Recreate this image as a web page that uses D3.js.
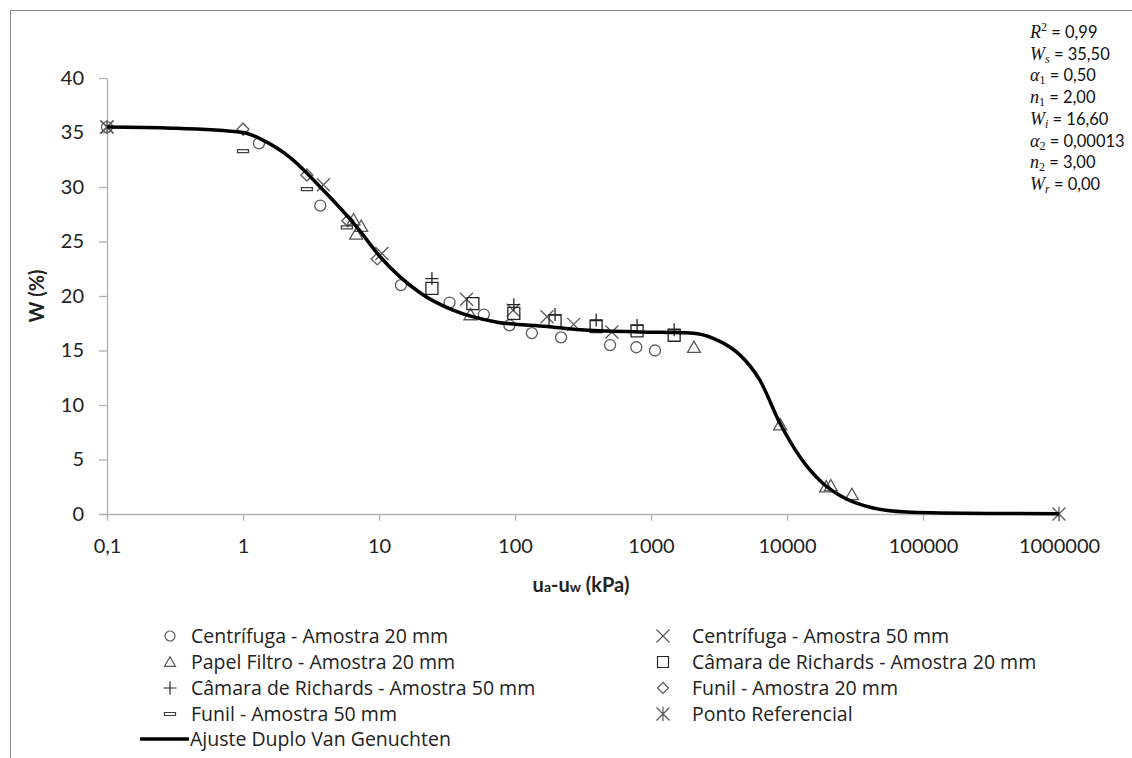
<!DOCTYPE html>
<html>
<head>
<meta charset="utf-8">
<script src="https://cdn.jsdelivr.net/npm/d3@7"></script>
<style>
  body { margin: 0; background: #fff; }
  svg { display: block; font-family: Lato, "Open Sans", sans-serif; }
</style>
</head>
<body>
<svg id="chart" width="1132" height="758"></svg>
<script>
// x = suction (kPa), y = W (%)
const centrifuga20_x = [0.1, 1.31, 3.7, 14.5, 33, 59, 91, 133, 218, 500, 780, 1070];
const centrifuga20_y = [35.5, 34.0, 28.3, 21.0, 19.4, 18.3, 17.3, 16.6, 16.2, 15.5, 15.3, 15.0];
const centrifuga50_x = [0.1, 3.9, 10.5, 44, 97, 172, 270, 516];
const centrifuga50_y = [35.5, 30.2, 23.9, 19.7, 18.7, 18.1, 17.4, 16.7];
const papel20_x = [6.5, 7.4, 6.8, 47, 2070, 8900, 19400, 21000, 30000];
const papel20_y = [27.0, 26.4, 25.7, 18.3, 15.3, 8.2, 2.5, 2.6, 1.8];
const richards20_x = [24.5, 49, 98, 197, 395, 790, 1480];
const richards20_y = [20.7, 19.3, 18.4, 17.7, 17.2, 16.8, 16.4];
const richards50_x = [24.5, 98, 197, 395, 790, 1480];
const richards50_y = [21.6, 19.2, 18.3, 17.8, 17.3, 16.9];
const funil20_x = [1.0, 2.95, 5.9, 9.7];
const funil20_y = [35.3, 31.1, 26.9, 23.4];
const funil50_x = [1.0, 2.95, 5.8];
const funil50_y = [33.3, 29.8, 26.3];
const referencial_x = [0.1, 1000000];
const referencial_y = [35.5, 0];

// fitted curve
const ajuste_x = [0.1, 0.3, 1, 1.4, 2.2, 3.9, 6.9, 10.2, 20, 35, 74, 172, 302, 830, 1950, 2900, 3830, 4500, 6300, 8900, 12500, 18400, 24500, 43000, 76000, 133000, 300000, 1000000];
const ajuste_y = [35.5, 35.4, 35.0, 34.3, 32.75, 29.7, 26.3, 23.6, 20.3, 18.7, 17.6, 17.2, 16.9, 16.7, 16.6, 16.1, 15.3, 14.6, 12.3, 8.3, 5.2, 2.8, 1.7, 0.55, 0.18, 0.1, 0.05, 0.03];

const x_ticks = [0.1, 1, 10, 100, 1000, 10000, 100000, 1000000];
const y_ticks = [0, 5, 10, 15, 20, 25, 30, 35, 40];

const params = [
  ["R", "2", "sup", " = 0,99"],
  ["W", "s", "sub", " = 35,50"],
  ["α", "1", "sub", " = 0,50"],
  ["n", "1", "sub", " =  2,00"],
  ["W", "i", "sub", " = 16,60"],
  ["α", "2", "sub", " = 0,00013"],
  ["n", "2", "sub", " = 3,00"],
  ["W", "r", "sub", " = 0,00"]
];

let svg = d3.select("#chart");

let x = d3.scaleLog().domain([0.1, 1000000]).range([107, 1059]);
let y = d3.scaleLinear().domain([0, 40]).range([514, 78]);

function zipPts(xs, ys) {
    return xs.map(function (v, i) { return [v, ys[i]]; });
}

// marker paths, centred on 0,0
function markerPath(type, s) {
    let h = s / 2;
    if (type === 'circle') {
        return 'M' + h + ',0A' + h + ',' + h + ' 0 1,1 ' + (-h) + ',0A' + h + ',' + h + ' 0 1,1 ' + h + ',0Z';
    } else if (type === 'triangle') {
        return 'M0,' + (-h * 0.95) + 'L' + h + ',' + (h * 0.8) + 'L' + (-h) + ',' + (h * 0.8) + 'Z';
    } else if (type === 'square') {
        return 'M' + (-h) + ',' + (-h) + 'H' + h + 'V' + h + 'H' + (-h) + 'Z';
    } else if (type === 'plus') {
        return 'M' + (-h) + ',0H' + h + 'M0,' + (-h) + 'V' + h;
    } else if (type === 'x') {
        return 'M' + (-h) + ',' + (-h) + 'L' + h + ',' + h + 'M' + h + ',' + (-h) + 'L' + (-h) + ',' + h;
    } else if (type === 'diamond') {
        return 'M0,' + (-h) + 'L' + h + ',0L0,' + h + 'L' + (-h) + ',0Z';
    } else if (type === 'dash') {
        return 'M' + (-h) + ',-1.5H' + h + 'V1.5H' + (-h) + 'Z';
    } else if (type === 'asterisk') {
        return 'M' + (-h) + ',' + (-h) + 'L' + h + ',' + h + 'M' + h + ',' + (-h) + 'L' + (-h) + ',' + h + 'M0,' + (-h * 1.1) + 'V' + (h * 1.1);
    }
}

const series = [
    {name: 'Centrífuga - Amostra 20 mm', type: 'circle', xs: centrifuga20_x, ys: centrifuga20_y, color: '#595959', size: 11, lsize: 10},
    {name: 'Centrífuga - Amostra 50 mm', type: 'x', xs: centrifuga50_x, ys: centrifuga50_y, color: '#595959', size: 13, lsize: 13},
    {name: 'Papel Filtro - Amostra 20 mm', type: 'triangle', xs: papel20_x, ys: papel20_y, color: '#595959', size: 13, lsize: 11},
    {name: 'Câmara de Richards - Amostra 20 mm', type: 'square', xs: richards20_x, ys: richards20_y, color: '#262626', size: 12, lsize: 11},
    {name: 'Câmara de Richards - Amostra 50 mm', type: 'plus', xs: richards50_x, ys: richards50_y, color: '#262626', size: 13, lsize: 13},
    {name: 'Funil - Amostra 20 mm', type: 'diamond', xs: funil20_x, ys: funil20_y, color: '#595959', size: 12, lsize: 11},
    {name: 'Funil - Amostra 50 mm', type: 'dash', xs: funil50_x, ys: funil50_y, color: '#404040', size: 11, lsize: 11},
    {name: 'Ponto Referencial', type: 'asterisk', xs: referencial_x, ys: referencial_y, color: '#595959', size: 13, lsize: 13}
];

// outer border
svg.append("rect")
    .attr("x", 10.5).attr("y", 10.5)
    .attr("width", 1140).attr("height", 760)
    .attr("fill", "none").attr("stroke", "#8c8c8c");

// axes
let yAxis = svg.append("g")
    .attr("transform", "translate(107,0)")
    .call(d3.axisLeft(y).tickValues(y_ticks).tickSize(8).tickSizeOuter(0).tickPadding(15));
let xAxis = svg.append("g")
    .attr("transform", "translate(0,514)")
    .call(d3.axisBottom(x).tickValues(x_ticks).tickSize(7).tickSizeOuter(0).tickPadding(18)
        .tickFormat(function (d) { return d < 1 ? String(d).replace('.', ',') : d3.format("d")(d); }));

[xAxis, yAxis].forEach(function (g) {
    g.selectAll("path, line").attr("stroke", "#b3b3b3").attr("stroke-width", 1.3);
    g.selectAll("text").attr("fill", "#222").attr("font-size", 20).attr("font-family", "Lato, sans-serif");
});
xAxis.select(".domain").attr("d", "M99,0.5H1059");

// axis titles
svg.append("text")
    .attr("transform", "translate(44,296) rotate(-90)")
    .attr("text-anchor", "middle")
    .attr("font-weight", "bold").attr("font-size", 20).attr("fill", "#222")
    .text("W (%)");

let xt = svg.append("text")
    .attr("x", 581).attr("y", 592)
    .attr("text-anchor", "middle")
    .attr("font-weight", "bold").attr("font-size", 20).attr("fill", "#222");
xt.append("tspan").text("u");
xt.append("tspan").attr("font-size", 14).text("a");
xt.append("tspan").text("-u");
xt.append("tspan").attr("font-size", 14).text("w");
xt.append("tspan").text(" (kPa)");

// fitted curve
let line = d3.line()
    .x(function (d) { return x(d[0]); })
    .y(function (d) { return y(d[1]); })
    .curve(d3.curveMonotoneX);

// markers under the curve
series.forEach(function (s) {
    svg.append("g")
        .selectAll("path")
        .data(zipPts(s.xs, s.ys))
        .enter().append("path")
        .attr("transform", function (d) { return "translate(" + x(d[0]) + "," + y(d[1]) + ")"; })
        .attr("d", markerPath(s.type, s.size))
        .attr("fill", "none")
        .attr("stroke", s.color)
        .attr("stroke-width", 1.3);
});

svg.append("path")
    .datum(zipPts(ajuste_x, ajuste_y))
    .attr("d", line)
    .attr("fill", "none")
    .attr("stroke", "#000")
    .attr("stroke-width", 3.5);

// parameter box
let pg = svg.append("g");
params.forEach(function (p, i) {
    let t = pg.append("text")
        .attr("x", 1030).attr("y", 38 + i * 21.7)
        .attr("font-size", 16.5).attr("fill", "#111");
    t.append("tspan").attr("font-family", "'Liberation Serif', serif").attr("font-style", "italic")
        .attr("font-size", 18).text(p[0]);
    t.append("tspan").attr("font-family", "'Liberation Serif', serif")
        .attr("font-size", 12)
        .attr("dy", p[2] === "sup" ? -7 : 3)
        .attr("font-style", p[1].match(/[a-z]/) ? "italic" : "normal")
        .text(p[1]);
    t.append("tspan").attr("dy", p[2] === "sup" ? 7 : -3).text(p[3]);
});

// legend
let legendRows = [636, 662, 688, 714];
let leg = svg.append("g").attr("font-size", 19.5).attr("font-family", "'Open Sans', sans-serif").attr("fill", "#222");
series.forEach(function (s, i) {
    let col = i % 2, row = Math.floor(i / 2);
    let mx = col === 0 ? 170 : 663;
    let tx = col === 0 ? 191 : 692;
    let cy = legendRows[row];
    leg.append("path")
        .attr("transform", "translate(" + mx + "," + cy + ")")
        .attr("d", markerPath(s.type, s.lsize))
        .attr("fill", "none")
        .attr("stroke", s.color)
        .attr("stroke-width", 1.2);
    leg.append("text")
        .attr("x", tx).attr("y", cy)
        .attr("dy", "0.36em")
        .text(s.name);
});
leg.append("line")
    .attr("x1", 140).attr("x2", 189)
    .attr("y1", 739).attr("y2", 739)
    .attr("stroke", "#000").attr("stroke-width", 3.5);
leg.append("text")
    .attr("x", 190).attr("y", 739)
    .attr("dy", "0.36em")
    .text("Ajuste Duplo Van Genuchten");
</script>
</body>
</html>
